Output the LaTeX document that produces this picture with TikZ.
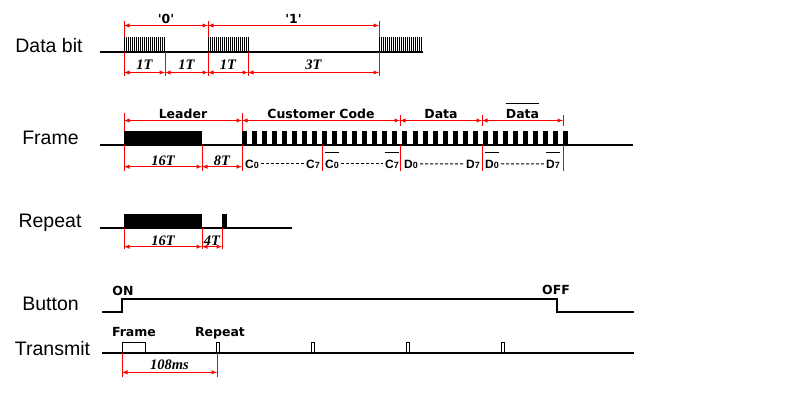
\documentclass[tikz,border=0pt]{standalone}
\usepackage{fontspec}
\setmainfont{Liberation Sans}
\newfontfamily\labelfont{DejaVu Sans}
\newfontfamily\timesfont{Liberation Serif}

\tikzset{
  signal/.style={black,line width=1.1pt},
  fin/.style={black,line width=1pt},
  cote/.style={red,line width=0.9pt,latex-latex},
  repere/.style={red,line width=0.9pt},
  pointille/.style={black,line width=1pt,dash pattern=on 3pt off 2pt,shorten <=2pt,shorten >=2pt},
  titre/.style={font=\fontsize{19.5}{20}\selectfont,anchor=base,inner sep=0pt},
  gras/.style={font=\labelfont\fontsize{12.5}{13}\selectfont\bfseries,anchor=base,inner sep=0pt},
  mesure/.style={font=\timesfont\fontsize{14.5}{15}\selectfont\bfseries\itshape,anchor=base,inner sep=0pt},
  bit/.style={font=\fontsize{12}{12}\selectfont\bfseries,inner sep=0pt},
}
\newcommand{\petit}{\fontsize{9}{9}\selectfont}

\begin{document}
\begin{tikzpicture}[x=1pt,y=-1pt]

\newcommand{\salve}[2]{% x depart, nombre de traits
\foreach \k in {0,...,#2} {\draw[fin] (#1+2*\k+0.5,37) -- (#1+2*\k+0.5,52);}
}
\newcommand{\myrepere}[3]{% x, y haut, y bas
\draw[repere] (#1,#2) -- (#1,#3);
}
\newcommand{\mycote}[7]{% nom, style, x depart, x fin, y fleche, y texte, texte
\coordinate (#1a) at (#3,#5);
\coordinate (#1b) at (#4,#5);
\draw[cote] (#1a) -- (#1b);
\node[#2] (#1) at ({(#3+#4)/2},#6) {#7};
}
\newcommand{\mybarre}[2]{% nom, decalage
\draw[fin] ([yshift=#2]#1.north west) -- ([yshift=#2]#1.north east);
}

\useasboundingbox (0,0) rectangle (800,400);

%data bit
\node[titre] (databit) at (49,52) {Data bit};
\draw[signal] (100,52) -- (423,52);
\salve{124}{20}
\salve{208}{20}
\salve{379}{21}
\foreach \x in {124,208,379} {\myrepere{\x}{21}{37}}
\mycote{zero}{gras}{124}{208}{25.5}{23}{\textquotesingle0\textquotesingle}
\mycote{one}{gras}{208}{379}{25.5}{23}{\textquotesingle1\textquotesingle}
\foreach \x in {124,165,208,248,379} {\myrepere{\x}{52}{76}}
\mycote{tzero}{mesure}{124}{165}{72.5}{69}{1T}
\mycote{tzerob}{mesure}{165}{208}{72.5}{69}{1T}
\mycote{tone}{mesure}{208}{248}{72.5}{69}{1T}
\mycote{toneb}{mesure}{248}{379}{72.5}{69}{3T}

%frame
\node[titre] (frame) at (50.5,144) {Frame};
\draw[signal] (100,145) -- (633,145);
\fill (124,131) rectangle (202,145);
\foreach \k in {0,...,32} {\fill ({242+10.03*\k},131) rectangle ++(5,14);}
\foreach \x in {124,242} {\myrepere{\x}{113}{131}}
\foreach \x in {400,482,563} {\myrepere{\x}{115}{126}}
\mycote{leader}{gras}{124}{242}{120.5}{118}{Leader}
\mycote{custom}{gras}{242}{400}{120.5}{118}{Customer Code}
\mycote{data}{gras}{400}{482}{120.5}{118}{Data}
\mycote{datab}{gras}{482}{563}{120.5}{118}{Data}
\mybarre{datab}{5pt}
\foreach \x in {124,202,242,322,400,482,563} {\myrepere{\x}{145}{171}}
\mycote{lead}{mesure}{124}{202}{166.7}{165}{16T}
\mycote{space}{mesure}{202}{242}{166.7}{165}{8T}
%bits
\node[bit,anchor=base west] (czero) at (245,168) {C\petit 0};
\node[bit,anchor=base east] (cseven) at (320,168) {C\petit 7};
\node[bit,anchor=base west] (czerob) at (325,168) {C\petit 0};
\node[bit,anchor=base east] (csevenb) at (399,168) {C\petit 7};
\node[bit,anchor=base west] (dzero) at (404,168) {D\petit 0};
\node[bit,anchor=base east] (dseven) at (480,168) {D\petit 7};
\node[bit,anchor=base west] (dzerob) at (485,168) {D\petit 0};
\node[bit,anchor=base east] (dsevenb) at (560,168) {D\petit 7};
\draw[pointille] (czero) -- (cseven);
\draw[pointille] (czerob) -- (csevenb);
\draw[pointille] (dzero) -- (dseven);
\draw[pointille] (dzerob) -- (dsevenb);
\foreach \n in {czerob,csevenb,dzerob,dsevenb} {\mybarre{\n}{7pt}}

%repeat
\node[titre] (repeat) at (50,227) {Repeat};
\draw[signal] (100,228) -- (292,228);
\fill (124,214) rectangle (202,228);
\fill (222,214) rectangle (226.5,228);
\foreach \x in {124,202,222} {\myrepere{\x}{228}{249}}
\mycote{leadrep}{mesure}{124}{202}{246.7}{245}{16T}
\mycote{spacerep}{mesure}{202}{222}{246.7}{245}{4T}

%button
\node[titre] (button) at (50.5,310) {Button};
\draw[signal] (102,312) -- (122,312) -- (122,299) -- (557,299) -- (557,312) -- (634,312);
\node[gras] (on) at (123,295) {ON};
\node[gras] (off) at (556,294) {OFF};

%transmit
\node[titre] (transmit) at (52.5,355) {Transmit};
\draw[signal] (102,353) -- (634,353);
\draw[fin] (122,353) |- (145,342) -- (145,353);
\foreach \x in {216,311,406,501} {\draw[fin] (\x,353) rectangle ++(3,-11);}
\node[gras] (framelbl) at (134,336) {Frame};
\node[gras] (repeatlbl) at (220,336) {Repeat};
\foreach \x in {122,217} {\myrepere{\x}{353}{377}}
\mycote{period}{mesure}{122}{217}{372.3}{369}{108ms}

\end{tikzpicture}
\end{document}
